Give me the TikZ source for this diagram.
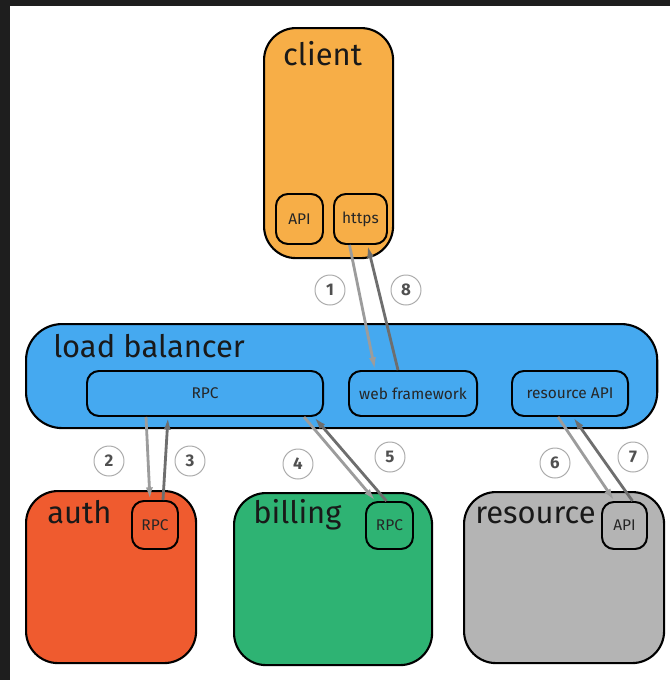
\documentclass[tikz,border=0pt]{standalone}
\usepackage{fontspec}
\setmainfont{Fira Sans}
\usepackage{tikz}
\usetikzlibrary{arrows.meta, positioning, calc}
\definecolor{frameDark}{HTML}{1E1E1E}
\definecolor{clientBg}{HTML}{F7AE47}
\definecolor{lbBg}{HTML}{45A9F0}
\definecolor{authBg}{HTML}{EF5B2F}
\definecolor{billingBg}{HTML}{2EB373}
\definecolor{resourceBg}{HTML}{B4B4B4}
\definecolor{reqGray}{HTML}{9C9C9C}
\definecolor{respGray}{HTML}{6E6E6E}
\definecolor{ringGray}{HTML}{ABABAB}
\definecolor{numGray}{HTML}{505050}
\tikzstyle{box} = [rectangle, draw=black, line width=1.5pt, rounded corners=8mm, anchor=north west, inner sep=0pt]
\tikzstyle{port} = [rectangle, draw=black, line width=1.4pt, rounded corners=3mm, anchor=north west, inner sep=0pt, text=black!85, font=\fontsize{11}{13}\selectfont]
\tikzstyle{title} = [anchor=base west, inner sep=0pt, text=black!90, font=\fontsize{22}{26}\selectfont]
\tikzstyle{req} = [line width=2pt, draw=reqGray, -{Latex[length=9pt,width=5pt]}]
\tikzstyle{resp} = [line width=2pt, draw=respGray, -{Latex[length=9pt,width=5pt]}]
\tikzstyle{stepnum} = [circle, draw=ringGray, line width=0.7pt, minimum size=7.5mm, inner sep=0pt, text=numGray, font=\fontsize{12}{14}\selectfont\bfseries]

\begin{document}
\begin{tikzpicture}[x=0.025cm, y=-0.025cm]

\fill[frameDark] (0,0) rectangle (670,680);
\fill[white] (10,6) rectangle (670,680);

% top: client
\node (client) [box, fill=clientBg, minimum width=32.25mm, minimum height=57.5mm] at (263,27) {};
\node (clientT) [title, anchor=base] at ($(client.north)+(-6,38)$) {client};
\node (api) [port, fill=clientBg, minimum width=11.75mm, minimum height=12.5mm] at (275,193) {API};
\node (https) [port, fill=clientBg, minimum width=13.25mm, minimum height=12.5mm] at (333,193) {https};

% load balancer
\node (lb) [box, fill=lbBg, minimum width=157.75mm, minimum height=26mm, rounded corners=9mm] at (25,323) {};
\node (lbT) [title] at ($(lb.north west)+(28,34)$) {load balancer};
\node (rpc) [port, fill=lbBg, minimum width=59mm, minimum height=11.25mm] at (86,370) {RPC};
\node (web) [port, fill=lbBg, minimum width=32mm, minimum height=11.25mm] at (348,370) {web framework};
\node (resapi) [port, fill=lbBg, minimum width=29mm, minimum height=11.25mm] at (511,370) {resource API};

% services
\node (auth) [box, fill=authBg, minimum width=42.5mm, minimum height=43mm] at (25,490) {};
\node (authT) [title] at ($(auth.north west)+(22,33)$) {auth};
\node (authrpc) [port, fill=authBg, minimum width=11.5mm, minimum height=12mm] at (131,500) {RPC};

\node (billing) [box, fill=billingBg, minimum width=49.5mm, minimum height=43mm] at (233,492) {};
\node (billingT) [title] at ($(billing.north west)+(20,31)$) {billing};
\node (billingrpc) [port, fill=billingBg, minimum width=11.75mm, minimum height=11.75mm] at (365,501) {RPC};

\node (resource) [box, fill=resourceBg, minimum width=50mm, minimum height=42.75mm] at (463,491) {};
\node (resourceT) [title] at ($(resource.north west)+(12,32)$) {resource};
\node (resport) [port, fill=resourceBg, minimum width=11.25mm, minimum height=11.75mm] at (601,501) {API};

% calls
\draw [req] ($(https.south)+(-11,0)$) -- ($(web.north)+(-38,0)$);
\draw [resp] ($(web.north)+(-15,0)$) -- ($(https.south)+(7,0)$);
\draw [req] ($(rpc.south)+(-59,0)$) -- ($(authrpc.north)+(-5,0)$);
\draw [resp] ($(authrpc.north)+(8,0)$) -- ($(rpc.south)+(-37,0)$);
\draw [req] ($(rpc.south)+(99,0)$) -- ($(billingrpc.north)+(-14,0)$);
\draw [resp] ($(billingrpc.north)+(-3,0)$) -- ($(rpc.south)+(109,0)$);
\draw [req] ($(resapi.south)+(-12,0)$) -- ($(resport.north)+(-10,0)$);
\draw [resp] ($(resport.north)+(8,0)$) -- ($(resapi.south)+(3,0)$);

% order
\node (s1) [stepnum] at (330,290) {1};
\node (s8) [stepnum] at (406,290) {8};
\node (s2) [stepnum] at (109,461) {2};
\node (s3) [stepnum] at (190,461) {3};
\node (s4) [stepnum] at (298,464) {4};
\node (s5) [stepnum] at (390,457) {5};
\node (s6) [stepnum] at (555,463) {6};
\node (s7) [stepnum] at (633,457) {7};

\end{tikzpicture}
\end{document}
